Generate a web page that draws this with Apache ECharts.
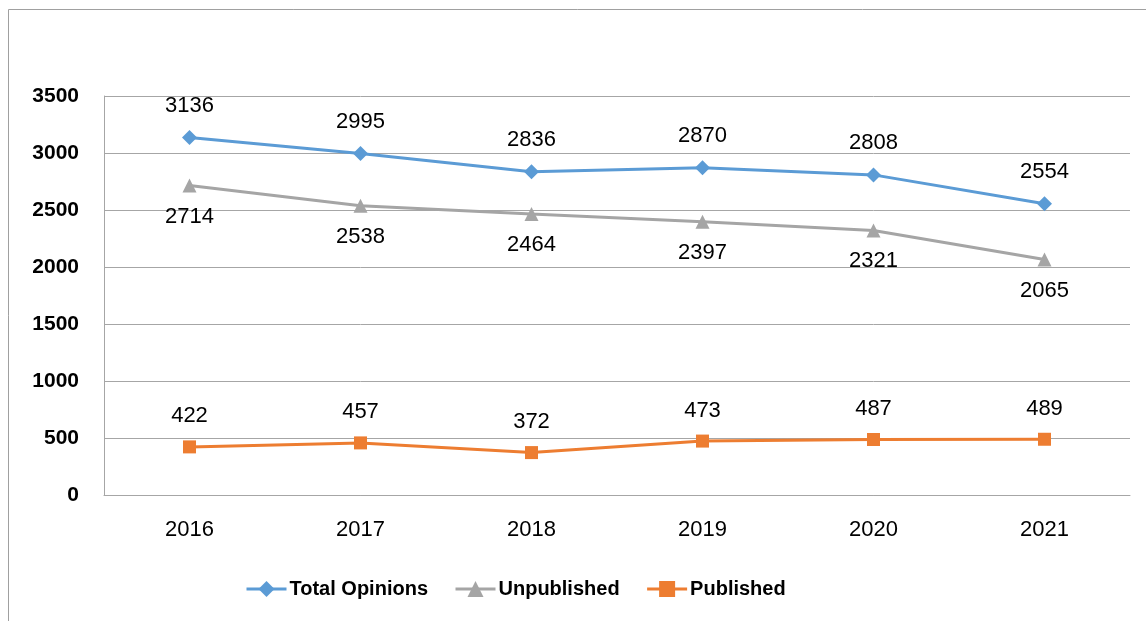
<!DOCTYPE html>
<html>
<head>
<meta charset="utf-8">
<script src="https://cdn.jsdelivr.net/npm/echarts@6/dist/echarts.min.js"></script>
<style>
  html, body { margin: 0; padding: 0; background: #fff; }
  #chart { width: 1146px; height: 621px; }
</style>
</head>
<body>
<div id="chart"></div>
<script>
  const years = ['2016', '2017', '2018', '2019', '2020', '2021']
  const totalOpinions = [3136, 2995, 2836, 2870, 2808, 2554]
  const unpublished = [2714, 2538, 2464, 2397, 2321, 2065]
  const published = [422, 457, 372, 473, 487, 489]

  const font = 'Liberation Sans'
  const gridColor = '#a6a6a6'

  const myChart = echarts.init(document.getElementById('chart'))

  // one helper so the three series share the same look
  const makeSeries = (name, data, color, symbol, size, labelPos) => ({
    name: name,
    type: 'line',
    data: data,
    symbol: symbol,
    symbolSize: size,
    itemStyle: { color: color },
    lineStyle: { color: color, width: 3 },
    label: {
      show: true,
      position: labelPos,
      distance: 13,
      color: '#000',
      fontFamily: font,
      fontSize: 22,
    },
  })

  const option = {
    animation: false,
    textStyle: { fontFamily: font },
    graphic: [
      {
        type: 'rect',
        shape: { x: 8.5, y: 9.5, width: 1300, height: 800 },
        style: { fill: 'none', stroke: '#a0a0a0', lineWidth: 1 },
        silent: true,
      },
    ],
    grid: { left: 104, right: 16, top: 96, bottom: 126 },
    legend: {
      data: ['Total Opinions', 'Unpublished', 'Published'],
      top: 574,
      left: 240,
      itemWidth: 40,
      itemHeight: 20,
      itemGap: 26,
      lineStyle: { width: 3 },
      textStyle: { fontFamily: font, fontSize: 20, fontWeight: 'bold', color: '#000', padding: [0, 0, 0, -2] },
    },
    xAxis: {
      type: 'category',
      data: years,
      boundaryGap: true,
      axisLine: { show: true, lineStyle: { color: gridColor, width: 1 } },
      axisTick: { show: false },
      axisLabel: { color: '#000', fontFamily: font, fontSize: 22, margin: 24 },
    },
    yAxis: {
      type: 'value',
      min: 0,
      max: 3500,
      interval: 500,
      axisLine: { show: true, lineStyle: { color: gridColor, width: 1 } },
      axisTick: { show: false },
      axisLabel: {
        color: '#000',
        fontFamily: font,
        fontSize: 21,
        fontWeight: 'bold',
        margin: 25,
        formatter: v => String(v),
      },
      splitLine: { show: true, lineStyle: { color: gridColor, width: 1 } },
    },
    series: [
      makeSeries('Total Opinions', totalOpinions, '#5B9BD5', 'diamond', 15, 'top'),
      makeSeries('Unpublished', unpublished, '#A5A5A5', 'triangle', 14, 'bottom'),
      makeSeries('Published', published, '#ED7D31', 'rect', 13, 'top'),
    ],
  }

  option && myChart.setOption(option)
</script>
</body>
</html>
